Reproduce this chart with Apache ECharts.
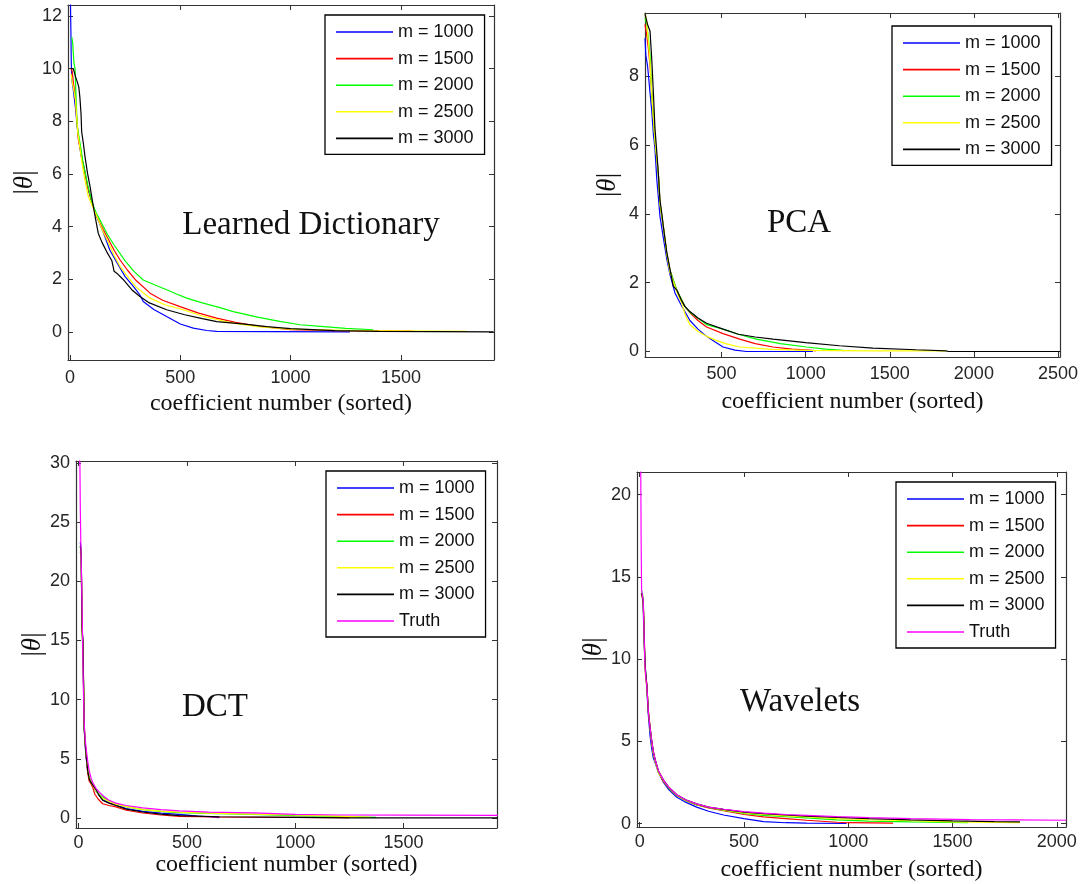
<!DOCTYPE html>
<html>
<head>
<meta charset="utf-8">
<script src="https://cdn.jsdelivr.net/npm/echarts@6/dist/echarts.min.js"></script>
<style>
html,body{margin:0;padding:0;background:#fff;}
#chart{width:1081px;height:884px;}
</style>
</head>
<body>
<div id="chart"></div>
<script>
// ---------- tick labels ----------
const ldXTicks = [0, 500, 1000, 1500];
const ldYTicks = [0, 2, 4, 6, 8, 10, 12];
const pcaXTicks = [500, 1000, 1500, 2000, 2500];
const pcaYTicks = [0, 2, 4, 6, 8];
const dctXTicks = [0, 500, 1000, 1500];
const dctYTicks = [0, 5, 10, 15, 20, 25, 30];
const wavXTicks = [0, 500, 1000, 1500, 2000];
const wavYTicks = [0, 5, 10, 15, 20];

const seriesNames = ['m = 1000', 'm = 1500', 'm = 2000', 'm = 2500', 'm = 3000', 'Truth'];
const panelTitles = ['Learned Dictionary', 'PCA', 'DCT', 'Wavelets'];

// ---------- Learned Dictionary ----------
const ld1000 = [[2,12.6],[4,11.5],[6,10.2],[8,9.6],[15,9.2],[25,8.5],[35,7.6],[50,6.7],[65,6.2],[80,5.5],[100,4.9],[120,4.4],[150,3.8],[181,3.1],[215,2.6],[250,2.1],[290,1.7],[317,1.4],[332,1.15],[380,0.85],[438,0.58],[500,0.3],[559,0.14],[620,0.05],[665,0.02],[900,0.01],[1269,0]];
const ld1500 = [[5,10.0],[10,9.9],[15,9.5],[23,9.0],[30,8.2],[38,7.3],[50,6.8],[65,6.1],[80,5.5],[100,4.9],[120,4.4],[150,3.9],[200,3.1],[227,2.73],[260,2.35],[300,1.95],[363,1.47],[420,1.2],[499,0.96],[580,0.72],[665,0.52],[750,0.36],[850,0.22],[937,0.14],[1000,0.08],[1200,0.05],[1553,0.03]];
const ld2000 = [[8,11.2],[12,11.0],[18,10.2],[23,10.0],[28,8.8],[33,7.8],[45,7.2],[60,6.4],[80,5.6],[100,4.9],[120,4.5],[136,4.25],[170,3.7],[200,3.3],[250,2.7],[290,2.3],[332,1.97],[380,1.8],[438,1.6],[480,1.45],[529,1.28],[600,1.1],[680,0.92],[740,0.77],[850,0.56],[950,0.4],[1043,0.27],[1150,0.2],[1250,0.13],[1375,0.08]];
const ld2500 = [[5,9.8],[10,9.5],[15,9.3],[25,8.8],[35,7.6],[45,7.0],[53,6.5],[65,5.9],[83,5.14],[100,4.8],[121,4.4],[150,3.8],[180,3.3],[200,2.9],[227,2.48],[270,2.0],[300,1.7],[363,1.28],[430,1.03],[514,0.84],[600,0.6],[660,0.48],[740,0.33],[850,0.2],[1000,0.1],[1300,0.05],[1798,0.02]];
const ld3000 = [[5,10.0],[15,10.0],[25,9.7],[33,9.5],[40,9.3],[45,8.9],[50,8.3],[53,7.6],[60,7.2],[68,6.66],[80,6.0],[91,5.52],[106,4.76],[118,4.2],[128,3.75],[145,3.4],[166,3.05],[190,2.7],[200,2.3],[212,2.23],[240,2.0],[280,1.6],[317,1.34],[360,1.1],[438,0.84],[520,0.65],[600,0.5],[665,0.39],[780,0.3],[892,0.2],[1000,0.12],[1200,0.05],[1400,0.02],[1920,0]];

// ---------- PCA ----------
const pca1000 = [[45,9.1],[50,8.6],[60,8.3],[66,8.0],[75,7.5],[85,7.0],[95,6.3],[104,5.9],[115,5.0],[124,4.5],[134,3.92],[154,3.3],[174,2.7],[193,2.25],[223,1.7],[260,1.35],[312,0.9],[360,0.65],[411,0.44],[460,0.28],[509,0.13],[580,0.04],[648,0],[1043,0]];
const pca1500 = [[45,9.5],[55,9.2],[65,8.8],[75,8.3],[85,7.5],[104,6.15],[124,5.18],[134,4.31],[154,3.63],[174,2.86],[193,2.37],[233,1.79],[282,1.31],[312,1.12],[360,0.9],[411,0.71],[509,0.52],[608,0.36],[700,0.23],[806,0.13],[920,0.07],[1043,0.03],[1060,0.02]];
const pca2000 = [[45,9.7],[55,9.5],[65,9.1],[75,8.6],[85,7.5],[104,6.15],[124,5.18],[134,4.31],[154,3.63],[174,2.86],[193,2.37],[233,1.79],[282,1.31],[312,1.14],[411,0.78],[509,0.65],[600,0.5],[707,0.36],[850,0.23],[1004,0.13],[1120,0.07],[1221,0.03],[1230,0.02]];
const pca2500 = [[45,9.8],[55,9.6],[65,9.0],[75,8.4],[85,7.5],[104,6.15],[124,5.18],[134,4.31],[154,3.63],[174,2.86],[193,2.3],[233,1.75],[263,1.4],[285,1.05],[312,0.78],[360,0.58],[411,0.44],[480,0.3],[530,0.22],[608,0.13],[800,0.06],[1004,0.03],[1400,0.02],[1834,0.02]];
const pca3000 = [[45,9.8],[60,9.5],[75,9.3],[85,8.5],[95,7.5],[104,6.5],[115,5.8],[124,5.2],[134,4.4],[145,4.0],[154,3.63],[174,2.9],[193,2.4],[213,1.9],[233,1.79],[260,1.5],[282,1.31],[312,1.16],[360,0.97],[411,0.82],[509,0.65],[600,0.5],[700,0.42],[806,0.36],[1000,0.26],[1201,0.166],[1400,0.1],[1656,0.05],[1834,0.02],[1850,0],[2510,0]];

// ---------- DCT ----------
const dct1000 = [[8,23.3],[12,22.5],[16,16.3],[20,14.5],[26,7.5],[30,6.2],[34,5.2],[42,4.0],[49,3.3],[57,3.0],[65,2.8],[80,2.3],[95,1.9],[111,1.55],[140,1.3],[172,1.1],[220,0.8],[296,0.55],[380,0.4],[465,0.3],[550,0.15],[600,0.1],[650,0.02]];
const dct1500 = [[8,22.5],[12,22.0],[16,16],[20,14.5],[26,7.5],[30,6.4],[34,5.4],[42,3.8],[49,3.1],[57,2.9],[65,2.6],[75,2.0],[90,1.6],[111,1.2],[140,1.05],[172,0.93],[220,0.65],[296,0.42],[380,0.25],[465,0.14],[650,0.08],[1000,0.05],[1250,0.03]];
const dct2000 = [[8,23],[12,22],[16,15.5],[20,14.2],[26,7.6],[30,6.5],[34,5.5],[42,4.2],[49,3.5],[57,3.1],[65,2.9],[80,2.3],[95,2.0],[111,1.75],[140,1.45],[172,1.2],[220,0.95],[296,0.7],[380,0.55],[465,0.45],[600,0.38],[800,0.3],[1000,0.2],[1200,0.12],[1374,0.05]];
const dct2500 = [[8,23],[12,22.5],[16,16],[20,14.5],[26,8],[30,6.6],[34,5.5],[42,4.2],[49,3.4],[57,3.0],[65,2.85],[80,2.3],[95,1.95],[111,1.65],[140,1.4],[172,1.15],[220,0.95],[296,0.7],[380,0.58],[465,0.5],[600,0.4],[800,0.33],[1000,0.25],[1200,0.15],[1346,0.05]];
const dct3000 = [[8,23],[12,22.3],[16,16],[20,15],[26,7.6],[30,6.5],[34,5.5],[42,4.0],[49,3.3],[57,3.0],[65,2.9],[80,2.4],[95,1.9],[111,1.5],[140,1.25],[172,1.05],[220,0.75],[296,0.5],[380,0.32],[465,0.2],[650,0.1],[1000,0.04],[1250,0.01],[1935,0]];
const dctTruth = [[3,30.5],[6,30],[8,26],[10,23.5],[14,20],[18,15.5],[22,11],[26,8],[30,6.8],[34,6],[42,4.8],[49,4.0],[57,3.4],[65,3.0],[80,2.5],[95,2.2],[111,1.9],[140,1.5],[172,1.25],[220,1.05],[296,0.85],[380,0.7],[465,0.6],[600,0.5],[804,0.42],[1000,0.3],[1204,0.25],[1500,0.23],[1935,0.22]];

// ---------- Wavelets ----------
const wav1000 = [[8,14],[13,13.8],[17,13.0],[21,11.2],[24,10.2],[28,9.3],[34,8.2],[42,6.5],[50,5.3],[57,4.6],[65,4.0],[74,3.7],[90,3.1],[114,2.5],[140,2.05],[178,1.6],[220,1.3],[273,1.0],[330,0.75],[402,0.52],[500,0.3],[594,0.12],[700,0.05],[800,0.03],[992,0.01]];
const wav1500 = [[8,14],[13,13.9],[17,13.5],[21,11.9],[24,10.3],[28,9.2],[34,8.5],[42,6.8],[50,5.8],[57,5.0],[65,4.3],[74,3.8],[90,3.1],[114,2.55],[140,2.15],[178,1.7],[220,1.4],[273,1.13],[330,0.95],[402,0.78],[500,0.55],[594,0.4],[700,0.3],[800,0.2],[945,0.08],[1000,0.05],[1215,0.02]];
const wav2000 = [[8,14.2],[13,14],[17,13.6],[21,11.3],[24,10.1],[28,9.1],[34,8.4],[42,6.8],[50,5.7],[57,5.0],[65,4.3],[74,3.85],[90,3.1],[114,2.6],[140,2.15],[178,1.7],[220,1.4],[273,1.15],[330,0.98],[402,0.82],[500,0.62],[594,0.5],[700,0.42],[800,0.35],[945,0.22],[1100,0.15],[1300,0.1],[1575,0.05]];
const wav2500 = [[8,14],[13,13.8],[17,13.2],[21,11.5],[24,10],[28,8.9],[34,8.2],[42,6.8],[50,5.8],[57,5.0],[65,4.3],[74,3.8],[90,3.1],[114,2.6],[140,2.2],[178,1.72],[220,1.42],[273,1.17],[330,1.0],[402,0.83],[500,0.65],[594,0.55],[700,0.47],[800,0.4],[945,0.3],[1100,0.23],[1300,0.17],[1500,0.1],[1823,0.05]];
const wav3000 = [[8,14],[13,13.8],[17,13.4],[21,11.6],[24,10.2],[28,9.2],[34,8.4],[42,6.7],[50,5.8],[57,5.1],[65,4.4],[74,3.9],[90,3.2],[114,2.64],[140,2.2],[178,1.75],[220,1.45],[273,1.2],[330,1.0],[402,0.86],[500,0.7],[594,0.6],[700,0.52],[800,0.45],[945,0.38],[1100,0.3],[1300,0.22],[1500,0.16],[1700,0.12],[1823,0.1]];
const wavTruth = [[3,22],[5,21.4],[7,17],[9,14.2],[13,13.9],[17,13.5],[21,11.5],[24,10],[28,9],[34,8.4],[42,6.7],[50,5.8],[57,5.1],[65,4.4],[74,3.9],[90,3.2],[114,2.64],[140,2.2],[178,1.75],[220,1.45],[273,1.2],[330,1.0],[402,0.87],[500,0.72],[594,0.63],[700,0.55],[800,0.5],[945,0.42],[1100,0.36],[1300,0.3],[1585,0.24],[1800,0.22],[2045,0.2]];

// ---------- layout / style ----------
const colors = ['#0000ff', '#ff0000', '#00ff00', '#ffff00', '#000000', '#ff00ff'];
const panels = [
  { data: [ld1000, ld1500, ld2000, ld2500, ld3000], xTicks: ldXTicks, yTicks: ldYTicks,
    grid: {left: 68, top: 5, width: 426, height: 355}, x: [-9, 1922], y: [-1.07, 12.42],
    xLabelMargin: 9, xNameGap: 32, yNameGap: 24, legend: {left: 325, top: 15}, title: [311, 225] },
  { data: [pca1000, pca1500, pca2000, pca2500, pca3000], xTicks: pcaXTicks, yTicks: pcaYTicks,
    grid: {left: 645, top: 13, width: 416, height: 344}, x: [45, 2512], y: [-0.16, 9.83],
    xLabelMargin: 8, xNameGap: 33, yNameGap: 24, legend: {left: 892, top: 26}, title: [799, 223] },
  { data: [dct1000, dct1500, dct2000, dct2500, dct3000, dctTruth], xTicks: dctXTicks, yTicks: dctYTicks,
    grid: {left: 76, top: 461, width: 421, height: 367}, x: [-12, 1931], y: [-0.85, 30.17],
    xLabelMargin: 6, xNameGap: 23, yNameGap: 30, legend: {left: 326, top: 471}, title: [215, 707] },
  { data: [wav1000, wav1500, wav2000, wav2500, wav3000, wavTruth], xTicks: wavXTicks, yTicks: wavYTicks,
    grid: {left: 637, top: 472, width: 429, height: 355}, x: [-13, 2044], y: [-0.21, 21.38],
    xLabelMargin: 6, xNameGap: 31, yNameGap: 30, legend: {left: 896, top: 482}, title: [800, 702] }
];

const axisColor = '#333';
const labelFont = {fontSize: 18, fontFamily: 'Liberation Sans, Arial, sans-serif', color: '#262626'};
const plainNum = v => String(v);

const grids = [], xAxes = [], yAxes = [], series = [], legends = [], graphics = [];
panels.forEach((p, i) => {
  grids.push(Object.assign({containLabel: false}, p.grid));
  const common = {
    type: 'value', gridIndex: i, splitLine: {show: false},
    axisLine: {show: true, onZero: false, lineStyle: {color: axisColor, width: 1.2}}
  };
  xAxes.push(Object.assign({}, common, {
    position: 'bottom', min: p.x[0], max: p.x[1],
    axisTick: {inside: true, length: 5, customValues: p.xTicks, lineStyle: {color: axisColor}},
    axisLabel: Object.assign({customValues: p.xTicks, margin: p.xLabelMargin, formatter: plainNum}, labelFont),
    name: 'coefficient number (sorted)', nameLocation: 'middle', nameGap: p.xNameGap,
    nameTextStyle: {fontFamily: 'Liberation Serif, Times New Roman, serif', fontSize: 24, color: '#111'}
  }));
  xAxes.push(Object.assign({}, common, {
    position: 'top', min: p.x[0], max: p.x[1],
    axisTick: {inside: true, length: 5, customValues: p.xTicks, lineStyle: {color: axisColor}},
    axisLabel: {show: false}
  }));
  yAxes.push(Object.assign({}, common, {
    position: 'left', min: p.y[0], max: p.y[1],
    axisTick: {inside: true, length: 5, customValues: p.yTicks, lineStyle: {color: axisColor}},
    axisLabel: Object.assign({customValues: p.yTicks, margin: 6, formatter: plainNum}, labelFont),
    name: '{a||}{b|θ}{a||}', nameLocation: 'middle', nameGap: p.yNameGap, nameRotate: 90,
    nameTextStyle: {
      rich: {
        a: {fontFamily: 'Liberation Serif, serif', fontSize: 27, color: '#111'},
        b: {fontFamily: 'Liberation Serif, serif', fontSize: 27, fontStyle: 'italic', color: '#111'}
      }
    }
  }));
  yAxes.push(Object.assign({}, common, {
    position: 'right', min: p.y[0], max: p.y[1],
    axisTick: {inside: true, length: 5, customValues: p.yTicks, lineStyle: {color: axisColor}},
    axisLabel: {show: false}
  }));
  const names = [];
  p.data.forEach((d, k) => {
    names.push(seriesNames[k]);
    series.push({
      type: 'line', name: seriesNames[k], xAxisIndex: 2 * i, yAxisIndex: 2 * i,
      data: d, symbol: 'none', showSymbol: false, clip: true,
      lineStyle: {color: colors[k], width: 1.2}, itemStyle: {color: colors[k]},
      emphasis: {disabled: true}
    });
  });
  legends.push({
    orient: 'vertical', left: p.legend.left, top: p.legend.top, data: names,
    icon: 'rect', itemWidth: 57, itemHeight: 1.6, itemGap: 8.6, padding: [8, 11, 7, 11],
    borderColor: '#000', borderWidth: 1.3, backgroundColor: '#fff',
    textStyle: {fontSize: 18, fontFamily: 'Liberation Sans, Arial, sans-serif', color: '#111', lineHeight: 18},
    selectedMode: false
  });
  graphics.push({
    type: 'text', x: p.title[0], y: p.title[1], z: 100,
    style: {text: panelTitles[i], font: '33px "Liberation Serif", "Times New Roman", serif',
      fill: '#111', align: 'center', verticalAlign: 'middle', textAlign: 'center', textVerticalAlign: 'middle'}
  });
});

const chart = echarts.init(document.getElementById('chart'), null, {renderer: 'canvas'});
chart.setOption({
  animation: false,
  backgroundColor: '#fff',
  grid: grids, xAxis: xAxes, yAxis: yAxes, series: series, legend: legends,
  graphic: graphics
});
</script>
</body>
</html>
